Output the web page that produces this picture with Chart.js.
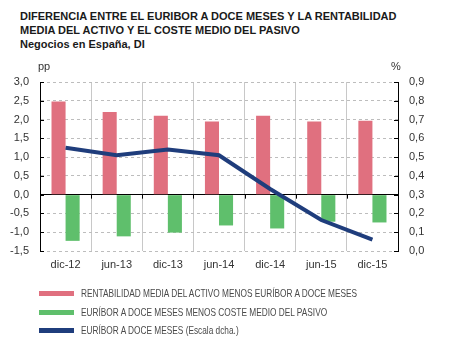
<!DOCTYPE html>
<html><head><meta charset="utf-8">
<script src="https://cdn.jsdelivr.net/npm/chart.js@4"></script>
<style>
body{margin:0;background:#fff;width:450px;height:348px;overflow:hidden;position:relative;font-family:"Liberation Sans",Arial,sans-serif}
#c{position:absolute;left:0;top:0}
.t{position:absolute;left:20px;font-weight:bold;font-size:11px;color:#1a1a1a;white-space:nowrap;line-height:12px}
.u{position:absolute;font-size:11px;color:#333;line-height:12px}
.lg{position:absolute;left:39px;height:12px;display:flex;align-items:center;white-space:nowrap}
.sw{width:35px;height:5px;margin-right:7px;flex:none}
.lt{font-family:"Liberation Sans",Arial,sans-serif;font-size:10.5px;color:#4a4a4a;display:inline-block;transform-origin:0 50%}
</style></head>
<body>
<div class="t" style="top:10px">DIFERENCIA ENTRE EL EURIBOR A DOCE MESES Y LA RENTABILIDAD</div>
<div class="t" style="top:23.5px">MEDIA DEL ACTIVO Y EL COSTE MEDIO DEL PASIVO</div>
<div class="t" style="top:38px">Negocios en España, DI</div>
<canvas id="c" width="450" height="348"></canvas>
<div class="u" style="left:38px;top:60px">pp</div>
<div class="u" style="left:391px;top:60px">%</div>
<div id="legend"></div>
<script>
const categories = ['dic-12','jun-13','dic-13','jun-14','dic-14','jun-15','dic-15'];
const seriesNames = [
  'RENTABILIDAD MEDIA DEL ACTIVO MENOS EURÍBOR A DOCE MESES',
  'EURÍBOR A DOCE MESES MENOS COSTE MEDIO DEL PASIVO',
  'EURÍBOR A DOCE MESES (Escala dcha.)'
];
const rentabilidadMenosEuribor = [2.48, 2.20, 2.10, 1.95, 2.10, 1.95, 1.97];
const euriborMenosCoste = [-1.23, -1.11, -1.01, -0.82, -0.90, -0.72, -0.74];
const euribor = [0.55, 0.51, 0.54, 0.51, 0.33, 0.165, 0.06];
const leftAxis = {min: -1.5, max: 3.0, step: 0.5};
const rightAxis = {min: 0, max: 0.9, step: 0.1};
const colors = ['#e0707f', '#5fbf6c', '#1f3d7c'];

const fmt = v => v.toFixed(1).replace('.', ',');
const tickFont = {family: '"Liberation Sans", Arial, sans-serif', size: 11};

const innerTicks = {
  id: 'innerTicks',
  afterDraw(chart) {
    const {ctx, chartArea: a, scales} = chart;
    ctx.save();
    ctx.strokeStyle = '#000';
    ctx.lineWidth = 1;
    ctx.beginPath();
    scales.y.ticks.forEach(t => {
      const y = Math.round(scales.y.getPixelForValue(t.value)) + 0.5;
      ctx.moveTo(a.left, y); ctx.lineTo(a.left + 4, y);
    });
    scales.y1.ticks.forEach(t => {
      const y = Math.round(scales.y1.getPixelForValue(t.value)) + 0.5;
      ctx.moveTo(a.right - 4, y); ctx.lineTo(a.right, y);
    });
    const y0 = scales.y.getPixelForValue(0);
    for (let i = 1; i < categories.length; i++) {
      const x = Math.round((scales.x.getPixelForTick(i - 1) + scales.x.getPixelForTick(i)) / 2) + 0.5;
      ctx.moveTo(x, y0); ctx.lineTo(x, y0 + 4);
    }
    ctx.stroke();
    ctx.restore();
  }
};

const chart = new Chart(document.getElementById('c'), {
  type: 'bar',
  data: {
    labels: categories,
    datasets: [
      {type: 'bar', label: seriesNames[0], data: rentabilidadMenosEuribor, backgroundColor: colors[0], yAxisID: 'y', order: 1, categoryPercentage: 0.55, barPercentage: 1.0},
      {type: 'bar', label: seriesNames[1], data: euriborMenosCoste, backgroundColor: colors[1], yAxisID: 'y', order: 1, categoryPercentage: 0.55, barPercentage: 1.0},
      {type: 'line', label: seriesNames[2], data: euribor, borderColor: colors[2], backgroundColor: colors[2], borderWidth: 4, pointRadius: 0, tension: 0, yAxisID: 'y1', order: 0}
    ]
  },
  options: {
    responsive: false, animation: false, devicePixelRatio: 1,
    layout: {padding: {top: 82, left: 0, right: 0, bottom: 0}},
    plugins: {legend: {display: false}, tooltip: {enabled: false}},
    scales: {
      x: {
        grid: {color: '#c8c8c8', lineWidth: 1, drawTicks: false, offset: true},
        border: {display: false},
        ticks: {padding: 7, color: '#333', font: tickFont, maxRotation: 0},
        afterFit(s) { s.height = 97; }
      },
      y: {
        position: 'left', min: leftAxis.min, max: leftAxis.max,
        ticks: {stepSize: leftAxis.step, padding: 11, color: '#333', font: tickFont, callback: v => fmt(v)},
        grid: {drawTicks: false, lineWidth: 1, color: c => (c.tick && c.tick.value === 0) ? '#000' : '#bdbdbd'},
        border: {display: true, color: '#000', width: 1, dash: c => (c.type === 'tick' && c.tick && c.tick.value !== 0) ? [3, 3] : []},
        afterFit(s) { s.width = 40; }
      },
      y1: {
        position: 'right', min: rightAxis.min, max: rightAxis.max,
        ticks: {stepSize: rightAxis.step, padding: 11, color: '#333', font: tickFont, callback: v => fmt(v)},
        grid: {display: false, drawTicks: false},
        border: {display: true, color: '#000', width: 1},
        afterFit(s) { s.width = 52; }
      }
    }
  },
  plugins: [innerTicks]
});

const lg = document.getElementById('legend');
const tops = [287, 306, 324];
const spans = [];
chart.data.datasets.forEach((ds, i) => {
  const row = document.createElement('div');
  row.className = 'lg';
  row.style.top = tops[i] + 'px';
  row.innerHTML = '<div class="sw" style="background:' + ds.backgroundColor + '"></div><span class="lt"></span>';
  row.querySelector('.lt').textContent = ds.label;
  lg.appendChild(row);
  spans.push(row.querySelector('.lt'));
});
// condensed look: narrow the text horizontally so the first entry spans ~276px
const k = 276 / spans[0].getBoundingClientRect().width;
spans.forEach(s => { s.style.transform = 'scaleX(' + k.toFixed(3) + ')'; });
</script>
</body></html>
